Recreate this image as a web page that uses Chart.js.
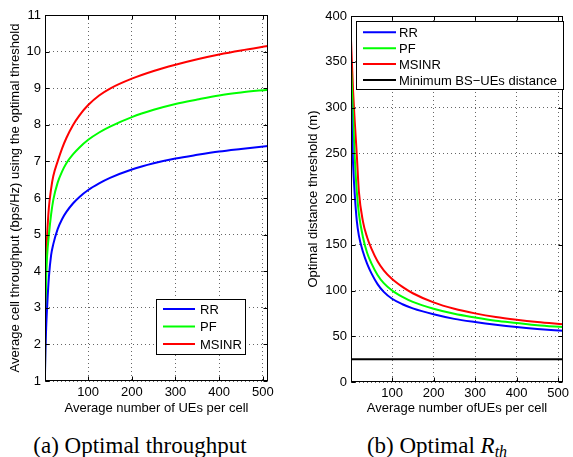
<!DOCTYPE html>
<html>
<head>
<meta charset="utf-8">
<script src="https://cdn.jsdelivr.net/npm/chart.js@4.4.1/dist/chart.umd.min.js"></script>
<style>
  html, body { margin: 0; padding: 0; background: #fff; }
  body { width: 573px; height: 457px; position: relative; overflow: hidden; }
  .plot { position: absolute; top: 0; }
  .caption {
    position: absolute; top: 434px; font-family: "Liberation Serif", "Times New Roman", serif;
    font-size: 23px; line-height: 23px; white-space: nowrap; transform: translateX(-50%);
  }
  .caption sub { font-size: 16px; vertical-align: -4px; line-height: 0; }
</style>
</head>
<body>
<canvas id="left" class="plot" width="286" height="420" style="left:0;width:286px;height:420px"></canvas>
<canvas id="right" class="plot" width="283" height="420" style="left:290px;width:283px;height:420px"></canvas>
<div class="caption" style="left:140px">(a) Optimal throughput</div>
<div class="caption" style="left:437px">(b) Optimal <i>R</i><sub><i>th</i></sub></div>

<script>
// average number of UEs per cell (shared x samples)
const ueCounts = [1, 2, 4, 6, 10, 15, 20, 30, 40, 50, 65, 80, 100, 125, 150, 200, 250, 300, 350, 400, 450, 512];

// (a) average cell throughput (bps/Hz)
const rrThroughput = [1.2, 1.85, 2.55, 3.05, 3.85, 4.44, 4.74, 5.15, 5.42, 5.62, 5.85, 6.03, 6.22, 6.4, 6.55, 6.78, 6.95, 7.08, 7.18, 7.27, 7.34, 7.42];
const pfThroughput = [1.25, 2.6, 3.9, 4.45, 5.0, 5.55, 5.95, 6.42, 6.72, 6.95, 7.19, 7.38, 7.59, 7.79, 7.95, 8.21, 8.41, 8.57, 8.69, 8.8, 8.88, 8.96];
const msinrThroughput = [1.3, 3.0, 4.4, 5.0, 5.75, 6.25, 6.6, 7.0, 7.35, 7.64, 7.99, 8.26, 8.54, 8.8, 8.99, 9.26, 9.47, 9.64, 9.79, 9.92, 10.03, 10.15];

// (b) optimal distance threshold (m)
const rrThreshold = [312, 298, 262, 238, 205, 176, 160, 142, 129, 119, 107, 98.5, 91, 85, 80.5, 74, 69, 65.5, 62.5, 60, 58, 56];
const pfThreshold = [345, 335, 312, 290, 245, 208, 184, 158, 141, 130, 117, 108, 100, 93, 87.5, 80, 74.5, 70.5, 67, 64.5, 62, 60];
const msinrThreshold = [374, 362, 340, 318, 285, 248, 208, 175, 158, 146, 132, 122, 112.5, 104, 97, 87, 80, 75, 71, 68, 65.5, 63];
const minBsUeDistance = 25;

const xTicks = [100, 200, 300, 400, 500];
const yTicksThroughput = [1, 2, 3, 4, 5, 6, 7, 8, 9, 10, 11];
const yTicksThreshold = [0, 50, 100, 150, 200, 250, 300, 350, 400];

const FONT = { family: "'Liberation Sans', Arial, Helvetica, sans-serif", size: 13 };

function pts(ys) {
  return ueCounts.map((x, i) => ({ x: x, y: ys[i] }));
}

function series(label, color, ys) {
  return {
    label: label, data: pts(ys), borderColor: color, backgroundColor: color,
    borderWidth: 2, pointRadius: 0, cubicInterpolationMode: "monotone", fill: false
  };
}

// matlab style box, inward ticks and a legend box inside the axes
const matlabFrame = {
  id: "matlabFrame",
  afterDraw(chart, args, opts) {
    const { ctx, chartArea: a, scales } = chart;
    const line = (x0, y0, x1, y1) => { ctx.beginPath(); ctx.moveTo(x0, y0); ctx.lineTo(x1, y1); ctx.stroke(); };
    ctx.save();
    ctx.strokeStyle = "#000";
    ctx.lineWidth = 1;
    const L = Math.round(a.left) + 0.5, R = Math.round(a.right) - 0.5;
    const T = Math.round(a.top) + 0.5, B = Math.round(a.bottom) - 0.5;
    ctx.strokeRect(L, T, R - L, B - T);
    scales.x.ticks.forEach(t => {
      const p = Math.round(scales.x.getPixelForValue(t.value)) + 0.5;
      line(p, B, p, B - 4);
      line(p, T, p, T + 4);
    });
    scales.y.ticks.forEach(t => {
      const p = Math.round(scales.y.getPixelForValue(t.value)) + 0.5;
      line(L, p, L + 4, p);
      line(R, p, R - 4, p);
    });

    const lg = opts.legend;
    ctx.fillStyle = "#fff";
    ctx.fillRect(lg.left, lg.top, lg.width, lg.height);
    ctx.strokeRect(lg.left + 0.5, lg.top + 0.5, lg.width, lg.height);
    ctx.font = FONT.size + "px " + FONT.family;
    ctx.textBaseline = "middle";
    chart.data.datasets.forEach((ds, i) => {
      const y = lg.firstRow + i * lg.rowGap;
      ctx.strokeStyle = ds.borderColor;
      ctx.lineWidth = 2;
      line(lg.lineX0, y, lg.lineX1, y);
      ctx.fillStyle = "#000";
      ctx.fillText(ds.label, lg.textX, y + 1);
    });
    ctx.restore();
  }
};

function makeChart(id, cfg) {
  return new Chart(document.getElementById(id), {
    type: "line",
    data: { datasets: cfg.datasets },
    options: {
      responsive: false,
      animation: false,
      layout: { padding: cfg.padding },
      plugins: { legend: { display: false }, tooltip: { enabled: false }, matlabFrame: { legend: cfg.legend } },
      scales: {
        x: {
          type: "linear", min: 1, max: 512,
          afterBuildTicks: s => { s.ticks = xTicks.map(v => ({ value: v })); },
          afterFit: s => { s.height = cfg.xHeight; },
          grid: { color: "rgba(0,0,0,0.6)", drawTicks: false },
          border: { display: false, dash: [1, 3] },
          ticks: { color: "#000", font: FONT, padding: 4, maxRotation: 0 },
          title: { display: true, text: cfg.xTitle, color: "#000", font: FONT, padding: { top: 0, bottom: 4 } }
        },
        y: {
          type: "linear", min: cfg.yTicks[0], max: cfg.yTicks[cfg.yTicks.length - 1],
          afterBuildTicks: s => { s.ticks = cfg.yTicks.map(v => ({ value: v })); },
          afterFit: s => { s.width = cfg.yWidth; },
          grid: { color: "rgba(0,0,0,0.6)", drawTicks: false },
          border: { display: false, dash: [1, 3] },
          ticks: { color: "#000", font: FONT, padding: 4 },
          title: { display: true, text: cfg.yTitle, color: "#000", font: FONT, padding: { top: cfg.yTitlePad, bottom: 0 } }
        }
      }
    },
    plugins: [matlabFrame]
  });
}

makeChart("left", {
  datasets: [
    series("RR", "#0000ff", rrThroughput),
    series("PF", "#00ff00", pfThroughput),
    series("MSINR", "#ff0000", msinrThroughput)
  ],
  yTicks: yTicksThroughput,
  padding: { left: 0, right: 18, top: 15, bottom: 0 },
  xHeight: 39, yWidth: 45, yTitlePad: 8,
  xTitle: "Average number of UEs per cell",
  yTitle: "Average cell throughput (bps/Hz) using the optimal threshold",
  legend: { left: 156, top: 299, width: 89, height: 55, firstRow: 309, rowGap: 17.5, lineX0: 163, lineX1: 195, textX: 200 }
});

makeChart("right", {
  datasets: [
    series("RR", "#0000ff", rrThreshold),
    series("PF", "#00ff00", pfThreshold),
    series("MSINR", "#ff0000", msinrThreshold),
    series("Minimum BS\u2212UEs distance", "#000000", ueCounts.map(() => minBsUeDistance))
  ],
  yTicks: yTicksThreshold,
  padding: { left: 0, right: 6, top: 16, bottom: 0 },
  xHeight: 38, yWidth: 61, yTitlePad: 16,
  xTitle: "Average number ofUEs per cell",
  yTitle: "Optimal distance threshold (m)",
  legend: { left: 66, top: 21, width: 207, height: 68, firstRow: 32.3, rowGap: 15.9, lineX0: 73, lineX1: 106, textX: 109 }
});
</script>
</body>
</html>
